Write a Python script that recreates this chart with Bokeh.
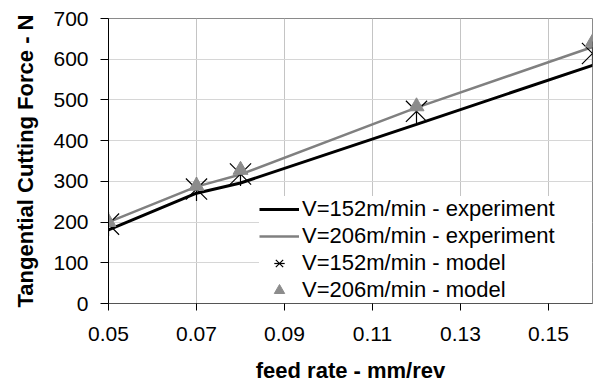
import math
from bokeh.plotting import figure
from bokeh.models import (Range1d, FixedTicker, PrintfTickFormatter, Legend, LegendItem,
                          ColumnDataSource)
from bokeh.embed import file_html
from bokeh.resources import INLINE

# ---- data ----
feed_rate = [0.05, 0.07, 0.08, 0.12, 0.16]
exp_152 = [181, 271, 296, 440, 585]
exp_206 = [200, 287, 317, 481, 630]
model_152 = [195, 281, 318, 472, 614]
model_206 = [200, 289, 328, 484, 641]

x_ticks = [0.05, 0.07, 0.09, 0.11, 0.13, 0.15]
y_ticks = [0, 100, 200, 300, 400, 500, 600, 700]

labels = ["V=152m/min - experiment", "V=206m/min - experiment",
          "V=152m/min - model", "V=206m/min - model"]

FONT = "Liberation Sans"

src = ColumnDataSource(dict(x=feed_rate, e152=exp_152, e206=exp_206,
                            m152=model_152, m206=model_206))

p = figure(frame_width=484, frame_height=285,
           min_border_left=108, min_border_right=22,
           min_border_top=18, min_border_bottom=82,
           x_range=Range1d(0.05, 0.16), y_range=Range1d(0, 700),
           output_backend="svg", toolbar_location=None,
           background_fill_color="white", border_fill_color="white")

p.outline_line_color = "#8a8a8a"
p.outline_line_width = 1

# grids
p.xgrid.grid_line_color = "#c4c4c4"
p.ygrid.grid_line_color = "#d6d6d6"
p.xgrid.grid_line_width = 1
p.ygrid.grid_line_width = 1

# axes
p.xaxis.ticker = FixedTicker(ticks=x_ticks)
p.yaxis.ticker = FixedTicker(ticks=y_ticks)
p.xaxis.formatter = PrintfTickFormatter(format="%.2f")
p.xaxis.minor_tick_line_color = None
p.yaxis.minor_tick_line_color = None
for ax in (p.xaxis, p.yaxis):
    ax.major_label_text_font = FONT
    ax.major_label_text_font_size = "21px"
    ax.major_label_text_color = "black"
    ax.axis_label_text_font = FONT
    ax.axis_label_text_font_size = "22px"
    ax.axis_label_text_font_style = "bold"
    ax.axis_label_text_color = "black"
    ax.major_tick_in = 0
    ax.major_tick_line_color = "black"
p.xaxis.major_tick_out = 7
p.yaxis.major_tick_out = 8
p.xaxis.axis_line_color = "#555555"
p.yaxis.axis_line_color = "black"
p.xaxis.major_label_standoff = 16
p.yaxis.major_label_standoff = 12
p.xaxis.axis_label = "feed rate - mm/rev"
p.yaxis.axis_label = "Tangential Cutting Force - N"
p.xaxis.axis_label_standoff = 14
p.yaxis.axis_label_standoff = 12

# series
l152 = p.line("x", "e152", source=src, line_color="black", line_width=3)
l206 = p.line("x", "e206", source=src, line_color="#808080", line_width=2.5)
s152a = p.scatter("x", "m152", source=src, marker="x", size=30,
                  line_color="black", line_width=1.2)
s152b = p.scatter("x", "m152", source=src, marker="dash", size=24, angle=math.pi / 2,
                  line_color="black", line_width=1.2)
t206 = p.scatter("x", "m206", source=src, marker="triangle", size=15,
                 fill_color="#8c8c8c", line_color="#8c8c8c")

legend = Legend(items=[
    LegendItem(label=labels[0], renderers=[l152]),
    LegendItem(label=labels[1], renderers=[l206]),
    LegendItem(label=labels[2], renderers=[s152a, s152b]),
    LegendItem(label=labels[3], renderers=[t206]),
], location="bottom_right")
legend.margin = 0
legend.padding = 3
legend.spacing = 1
legend.glyph_width = 40
legend.glyph_height = 26
legend.label_height = 26
legend.label_width = 290
legend.label_standoff = 3
legend.label_text_font = FONT
legend.label_text_font_size = "22px"
legend.label_text_color = "black"
legend.border_line_color = None
legend.background_fill_color = "white"
legend.background_fill_alpha = 1
p.add_layout(legend)

open("out.html", "w").write(file_html(p, INLINE))
